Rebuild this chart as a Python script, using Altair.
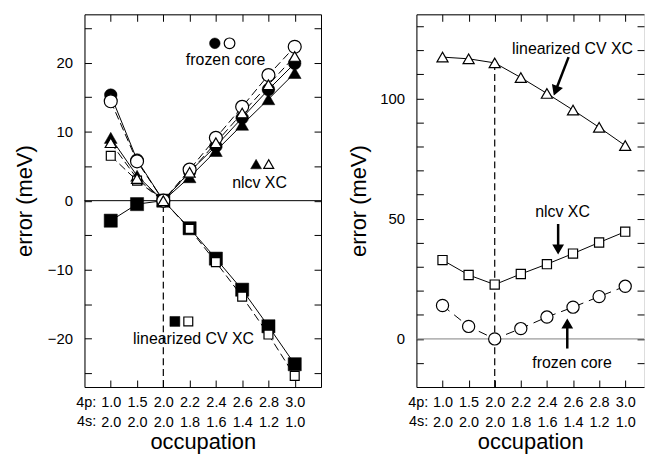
import altair as alt
import pandas as pd

FONT = "Liberation Sans"

# ---------------- data ----------------
p4_labels = ["1.0", "1.5", "2.0", "2.2", "2.4", "2.6", "2.8", "3.0"]
s4_labels = ["2.0", "2.0", "2.0", "1.8", "1.6", "1.4", "1.2", "1.0"]
positions = [0, 1, 2, 3, 4, 5, 6, 7]

# left panel (error, meV)
left_frozen_filled = [15.3, 5.9, 0.0, 4.2, 7.9, 12.0, 16.1, 19.9]
left_frozen_open = [14.4, 5.7, 0.0, 4.5, 9.1, 13.6, 18.2, 22.3]
left_nlcv_filled = [9.1, 3.6, 0.0, 3.4, 7.2, 11.0, 14.7, 18.5]
left_nlcv_open = [8.4, 3.2, 0.0, 4.1, 8.4, 12.7, 16.8, 20.9]
left_lin_filled = [-2.9, -0.5, 0.0, -4.0, -8.4, -12.9, -18.2, -23.7]
left_lin_open = [6.5, 2.9, 0.0, -4.1, -8.9, -13.9, -19.4, -25.4]

# right panel (error, meV)
right_lin = [117.2, 116.5, 114.8, 108.7, 102.1, 95.2, 88.0, 80.4]
right_nlcv = [32.8, 26.6, 22.6, 27.0, 31.1, 35.5, 40.1, 44.6]
right_frozen = [13.9, 5.2, 0.0, 4.3, 9.1, 13.2, 17.6, 21.9]

# axis ticks
left_y_labels = [-20, -10, 0, 10, 20]
left_y_ticks = [-25, -20, -15, -10, -5, 0, 5, 10, 15, 20, 25]
right_y_labels = [0, 50, 100]
right_y_ticks = list(range(-10, 131, 10))

# annotation texts and places (in data units)
left_texts = pd.DataFrame({
    "i": [4.37, 5.66, 3.15],
    "v": [20.4, 2.6, -20.0],
    "t": ["frozen core", "nlcv XC", "linearized CV XC"],
})
left_key_filled_circle = pd.DataFrame({"i": [3.96], "v": [22.8]})
left_key_open_circle = pd.DataFrame({"i": [4.52], "v": [22.8]})
left_key_filled_tri = pd.DataFrame({"i": [5.53], "v": [5.3]})
left_key_open_tri = pd.DataFrame({"i": [6.01], "v": [5.3]})
left_key_filled_sq = pd.DataFrame({"i": [2.44], "v": [-17.5]})
left_key_open_sq = pd.DataFrame({"i": [2.95], "v": [-17.5]})

right_texts = pd.DataFrame({
    "i": [4.98, 4.6, 4.96],
    "v": [120.7, 52.9, -10.0],
    "t": ["linearized CV XC", "nlcv XC", "frozen core"],
})
right_arrows = pd.DataFrame({
    "i": [4.83, 4.43, 4.78],
    "v": [117.2, 47.8, -4.0],
    "i2": [4.34, 4.43, 4.78],
    "v2": [103.4, 37.4, 6.2],
    "ang": [201, 180, 0],
})

W1, W2, H = 238, 229, 375
X1 = [-1, 8]
X2 = [-1, 7.72]
Y1 = [-27, 27]
Y2 = [-20, 135]

label_expr = "[" + ", ".join("['%s', '%s']" % (p, s) for p, s in zip(p4_labels, s4_labels)) + "][datum.value]"


def ax(**kw):
    base = dict(grid=False, labelFont=FONT, titleFont=FONT, labelColor="black",
                titleColor="black", tickColor="black", domainColor="black",
                domainWidth=1, tickWidth=1)
    base.update(kw)
    return alt.Axis(**base)


def sdf(vals):
    return pd.DataFrame({"i": positions, "v": vals})


def panel(W, xdom, ydom, y_labels, y_ticks, title_x, zero_color, right_frame, data_layers):
    xs = alt.Scale(domain=xdom, nice=False, zero=False)
    ys = alt.Scale(domain=ydom, nice=False, zero=False)

    def X(field="i"):
        return alt.X(field + ":Q", scale=xs, axis=None)

    def Y(field="v"):
        return alt.Y(field + ":Q", scale=ys, axis=None)

    layers = []
    layers.append(alt.Chart(pd.DataFrame({"v": [0.0]})).mark_rule(color=zero_color, strokeWidth=1)
                  .encode(y=Y()))
    layers += data_layers(X, Y)

    dummy = pd.DataFrame({"i": [0.0], "v": [0.0]})

    def axis_layer(xaxis=None, yaxis=None):
        return alt.Chart(dummy).mark_point(opacity=0, size=1).encode(
            x=alt.X("i:Q", scale=xs, axis=xaxis),
            y=alt.Y("v:Q", scale=ys, axis=yaxis))

    layers.append(axis_layer(yaxis=ax(
        orient="left", values=y_labels, ticks=False, tickSize=0, domain=True,
        labelPadding=12, labelFontSize=15, labelOverlap=False, labelFlush=False,
        title="error (meV)", titleFontSize=22, titleFontWeight="normal",
        titleAngle=270, titleX=title_x, titleY=H / 2, titleAlign="center",
        titleBaseline="middle")))
    layers.append(axis_layer(yaxis=ax(
        orient="right", offset=-W, values=y_ticks, tickSize=7, labels=False,
        domain=False, title=None)))
    layers.append(axis_layer(yaxis=ax(
        orient="left", offset=-W, values=y_ticks, tickSize=7, labels=False,
        domain=right_frame, title=None)))
    layers.append(axis_layer(xaxis=ax(
        orient="bottom", values=positions, ticks=False, tickSize=0, domain=True,
        labelExpr=label_expr, labelPadding=20, labelBaseline="alphabetic",
        labelLineHeight=19.5, labelFontSize=14.5, labelOverlap=False, labelFlush=False,
        title="occupation", titleFontSize=22, titleFontWeight="normal",
        titleY=62, titleBaseline="alphabetic")))
    layers.append(axis_layer(xaxis=ax(
        orient="top", offset=-H, values=positions, tickSize=7, labels=False,
        domain=False, title=None)))
    layers.append(axis_layer(xaxis=ax(
        orient="bottom", offset=-H, values=positions, tickSize=7, labels=False,
        domain=True, title=None)))

    pref = pd.DataFrame({"i": [-0.55], "t1": ["4p:"], "t2": ["4s:"]})
    layers.append(alt.Chart(pref).mark_text(align="right", baseline="alphabetic", fontSize=14.5,
                                            font=FONT, color="black")
                  .encode(x=X(), y=alt.value(H + 20), text="t1:N"))
    layers.append(alt.Chart(pref).mark_text(align="right", baseline="alphabetic", fontSize=14.5,
                                            font=FONT, color="black")
                  .encode(x=X(), y=alt.value(H + 39.5), text="t2:N"))

    return (alt.layer(*layers)
            .resolve_scale(x="shared", y="shared")
            .resolve_axis(x="independent", y="independent")
            .properties(width=W, height=H))


def pt(df, X, Y, shape, size, filled):
    if filled:
        m = alt.Chart(df).mark_point(shape=shape, size=size, filled=True, fill="black",
                                     stroke="black", opacity=1, strokeWidth=0.5)
    else:
        m = alt.Chart(df).mark_point(shape=shape, size=size, filled=True, fill="white",
                                     stroke="black", opacity=1, strokeWidth=1.2)
    return m.encode(x=X(), y=Y())


def left_layers(X, Y):
    L = []
    L.append(alt.Chart(pd.DataFrame({"i": [2], "v": [Y1[0]], "v2": [0.0]}))
             .mark_rule(color="black", strokeDash=[7, 4], strokeWidth=1.2)
             .encode(x=X(), y=Y(), y2="v2:Q"))
    for vals in [left_frozen_filled, left_nlcv_filled, left_lin_filled]:
        L.append(alt.Chart(sdf(vals)).mark_line(color="black", strokeWidth=1).encode(x=X(), y=Y()))
    for vals in [left_frozen_open, left_nlcv_open, left_lin_open]:
        L.append(alt.Chart(sdf(vals)).mark_line(color="black", strokeWidth=1, strokeDash=[8, 4])
                 .encode(x=X(), y=Y()))
    L.append(pt(sdf(left_lin_filled), X, Y, "square", 175, True))
    L.append(pt(sdf(left_frozen_filled), X, Y, "circle", 160, True))
    L.append(pt(sdf(left_nlcv_filled), X, Y, "triangle-up", 165, True))
    L.append(pt(sdf(left_lin_open), X, Y, "square", 80, False))
    L.append(pt(sdf(left_frozen_open), X, Y, "circle", 170, False))
    L.append(pt(sdf(left_nlcv_open), X, Y, "triangle-up", 125, False))
    # keys
    L.append(pt(left_key_filled_circle, X, Y, "circle", 115, True))
    L.append(pt(left_key_open_circle, X, Y, "circle", 115, False))
    L.append(pt(left_key_filled_tri, X, Y, "triangle-up", 120, True))
    L.append(pt(left_key_open_tri, X, Y, "triangle-up", 100, False))
    L.append(pt(left_key_filled_sq, X, Y, "square", 100, True))
    L.append(pt(left_key_open_sq, X, Y, "square", 80, False))
    L.append(alt.Chart(left_texts).mark_text(fontSize=16, font=FONT, color="black",
                                             align="center", baseline="middle")
             .encode(x=X(), y=Y(), text="t:N"))
    return L


def right_layers(X, Y):
    L = []
    L.append(alt.Chart(pd.DataFrame({"i": [2], "v": [Y2[0]], "v2": [right_lin[2]]}))
             .mark_rule(color="black", strokeDash=[7, 4], strokeWidth=1.2)
             .encode(x=X(), y=Y(), y2="v2:Q"))
    L.append(alt.Chart(sdf(right_lin)).mark_line(color="black", strokeWidth=1).encode(x=X(), y=Y()))
    L.append(alt.Chart(sdf(right_nlcv)).mark_line(color="black", strokeWidth=1).encode(x=X(), y=Y()))
    L.append(alt.Chart(sdf(right_frozen)).mark_line(color="black", strokeWidth=1, strokeDash=[9, 6])
             .encode(x=X(), y=Y()))
    L.append(pt(sdf(right_lin), X, Y, "triangle-up", 125, False))
    L.append(pt(sdf(right_nlcv), X, Y, "square", 85, False))
    L.append(pt(sdf(right_frozen), X, Y, "circle", 150, False))
    L.append(alt.Chart(right_arrows).mark_rule(color="black", strokeWidth=2.5)
             .encode(x=X(), y=Y(), x2="i2:Q", y2="v2:Q"))
    L.append(alt.Chart(right_arrows).mark_point(shape="triangle-up", size=70, filled=True,
                                                fill="black", stroke="black", opacity=1)
             .encode(x=X("i2"), y=Y("v2"), angle=alt.Angle("ang:Q", scale=None)))
    L.append(alt.Chart(right_texts).mark_text(fontSize=16, font=FONT, color="black",
                                              align="center", baseline="middle")
             .encode(x=X(), y=Y(), text="t:N"))
    return L


left = panel(W1, X1, Y1, left_y_labels, left_y_ticks, -60, "black", True, left_layers)
right = panel(W2, X2, Y2, right_y_labels, right_y_ticks, -58, "#808080", False, right_layers)

chart = (alt.hconcat(left, right, spacing=25)
         .properties(padding={"left": 13, "top": 12, "right": 0, "bottom": 0})
         .configure_view(stroke=None)
         .configure(font=FONT, background="white"))

chart.save("out.html", embed_options={"renderer": "svg", "actions": False})
